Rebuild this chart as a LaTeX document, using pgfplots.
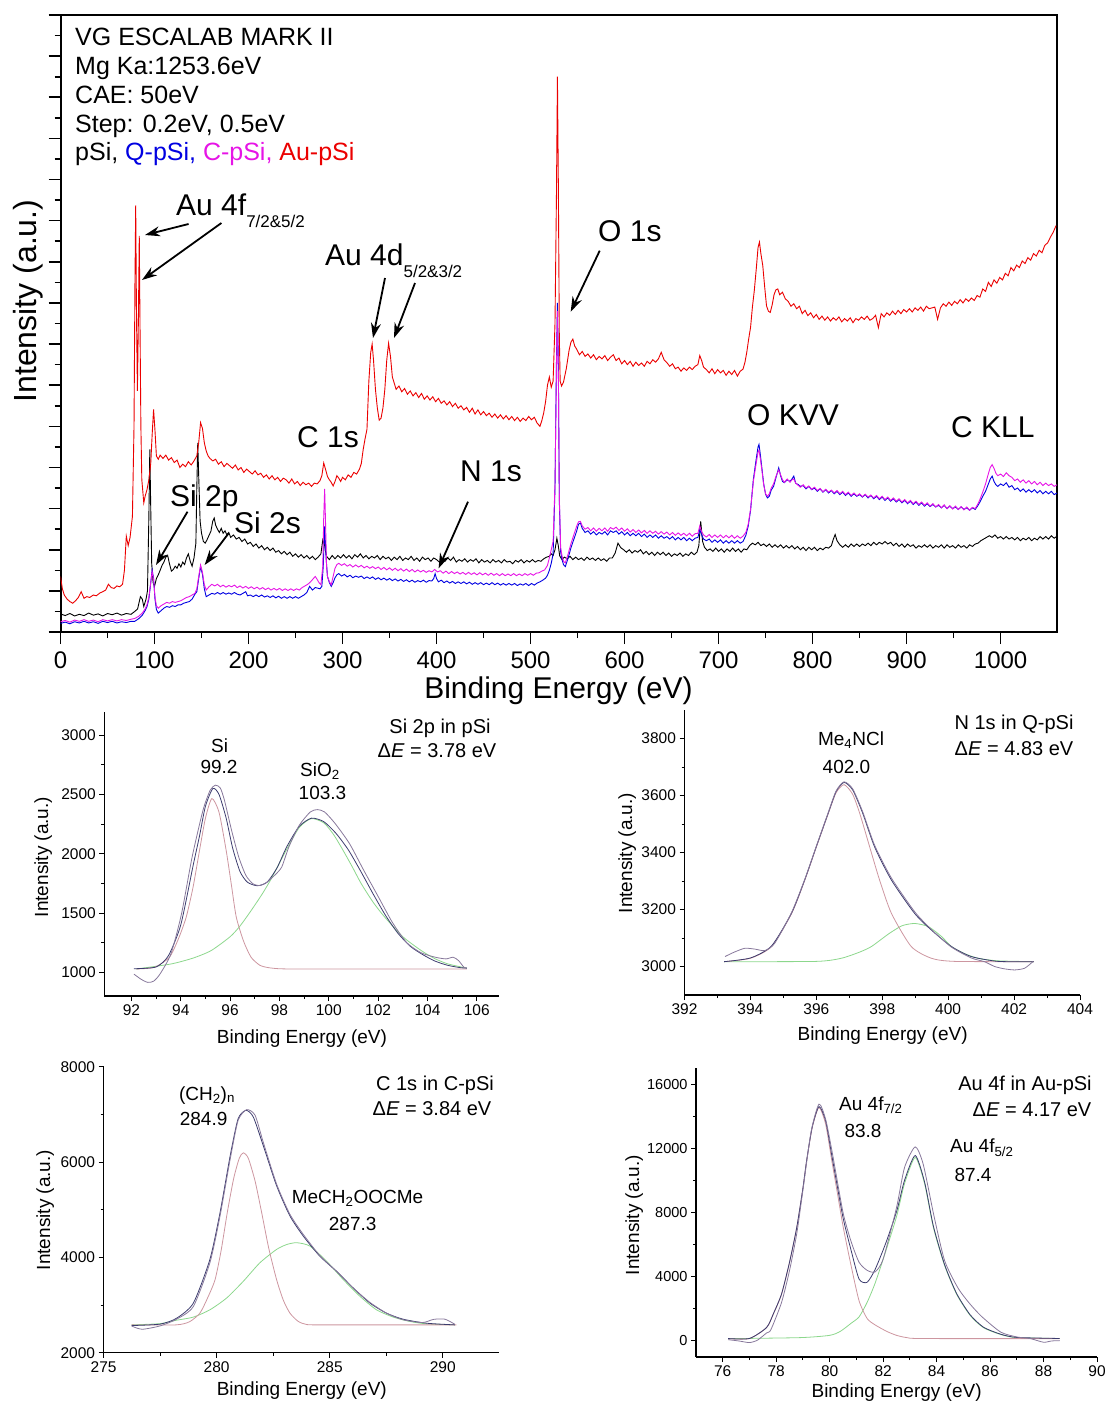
\documentclass[border=0pt]{standalone}
\usepackage{fontspec}
\setmainfont{Liberation Sans}
\usepackage{pgfplots}
\pgfplotsset{compat=1.18}
\usetikzlibrary{arrows.meta}
\definecolor{cblue}{RGB}{0,0,225}
\definecolor{cmag}{RGB}{230,20,230}
\definecolor{cred}{RGB}{235,0,0}
\definecolor{fitc}{RGB}{60,60,110}
\definecolor{rawc}{RGB}{135,120,155}
\definecolor{pinkc}{RGB}{205,150,160}
\definecolor{greenc}{RGB}{140,215,140}
\newcommand{\fs}[1]{\fontsize{#1}{#1}\selectfont}
\pgfplotsset{
  smallp/.style={scale only axis, axis lines=left, axis line style={-, line width=1.2pt},
    tick align=outside, major tick length=5pt, minor tick length=3pt,
    every tick/.style={line width=1pt, black},
    tick label style={font=\fs{15.5}},
    /pgf/number format/assume math mode=true,
    /pgf/number format/set thousands separator={},
    scaled ticks=false,
    minor x tick num=1, minor y tick num=1,
    every axis plot/.append style={smooth, tension=0.4, line width=0.8pt}},
}
\begin{document}
\begin{tikzpicture}
\path[use as bounding box] (0pt,0pt) rectangle (1107pt,-1401pt);
% ---------------- main survey ----------------
\begin{axis}[at={(60.5pt,-632pt)}, anchor=south west, scale only axis,
  width=996.5pt, height=617pt, xmin=0, xmax=1060, ymin=0, ymax=15,
  xtick={0,100,...,1000}, minor x tick num=1, ytick={0,1,...,15}, minor y tick num=1,
  yticklabels={}, xtick pos=bottom, ytick pos=left, tick align=outside,
  axis line style={line width=2pt}, major tick length=12pt, minor tick length=6pt,
  every tick/.style={line width=1.6pt, black}, tick label style={font=\fs{24}},
  xticklabel style={yshift=-4pt},
  /pgf/number format/assume math mode=true, /pgf/number format/set thousands separator={}]
\addplot[black, line width=0.9pt] coordinates {
(0,0.44)(5,0.40)(10,0.45)(15,0.39)(20,0.43)(25,0.40)(30,0.46)(35,0.41)(40,0.44)(45,0.39)(50,0.45)(55,0.42)(60,0.46)(65,0.41)(70,0.45)(75,0.43)(79,0.50)(82,0.56)(85,0.86)(87,0.80)(88.6,0.62)(91,0.80)(92.5,1.0)(94,2.8)(95,4.44)(96,3.0)(97,1.67)(98.5,1.20)(100,1.11)(102,1.30)(104,1.39)(106,1.50)(108,1.62)(110,1.70)(112,1.82)(114,1.86)(116,1.65)(118,1.48)(120,1.52)(122,1.60)(124,1.55)(126,1.66)(128,1.58)(130,1.70)(132,1.64)(134,1.80)(136,1.90)(138,1.72)(140,1.60)(142,1.80)(144,2.16)(145,3.5)(146,4.60)(147,3.8)(148.5,2.7)(150,2.40)(152,2.20)(154,2.16)(156,2.25)(158,2.35)(160,2.45)(162,2.70)(163.5,2.77)(165,2.60)(167,2.50)(169,2.42)(171,2.52)(173,2.40)(175,2.46)(177,2.36)(179,2.42)(181,2.30)(184,2.36)(187,2.26)(190,2.30)(193,2.20)(196,2.26)(199,2.14)(202,2.18)(205,2.08)(208,2.14)(211,2.04)(214,2.10)(217,2.00)(220,2.06)(223,1.98)(226,2.04)(229,1.94)(232,1.98)(235,1.90)(238,1.96)(241,1.88)(244,1.94)(247,1.84)(250,1.90)(253,1.82)(256,1.88)(259,1.80)(262,1.86)(265,1.78)(268,1.84)(271,1.76)(274,1.82)(277,1.90)(279,2.24)(281,2.10)(283,1.84)(286,1.76)(289,1.86)(292,1.78)(295,1.86)(298,1.80)(301,1.88)(304,1.80)(307,1.86)(310,1.78)(313,1.88)(316,1.82)(319,1.90)(322,1.80)(325,1.86)(328,1.78)(331,1.84)(334,1.80)(337,1.86)(340,1.76)(343,1.84)(346,1.78)(349,1.82)(352,1.74)(355,1.82)(358,1.76)(361,1.84)(364,1.74)(367,1.80)(370,1.76)(373,1.84)(376,1.74)(379,1.80)(382,1.72)(385,1.82)(388,1.76)(391,1.80)(394,1.72)(397,1.80)(400,1.76)(403,1.70)(406,1.78)(409,1.72)(412,1.80)(415,1.74)(418,1.82)(421,1.70)(424,1.76)(427,1.72)(430,1.78)(433,1.70)(436,1.76)(439,1.72)(442,1.78)(445,1.68)(448,1.76)(451,1.70)(454,1.74)(457,1.68)(460,1.76)(463,1.70)(466,1.74)(469,1.68)(472,1.76)(475,1.70)(478,1.72)(481,1.66)(484,1.74)(487,1.70)(490,1.76)(493,1.68)(496,1.74)(499,1.70)(502,1.76)(505,1.70)(508,1.74)(511,1.72)(514,1.78)(517,1.82)(520,1.84)(522,1.90)(524,1.86)(526,2.0)(528,2.28)(529.5,2.10)(531,1.85)(533.5,1.76)(536,1.82)(539,1.78)(542,1.84)(545,1.76)(548,1.82)(551,1.76)(554,1.80)(557,1.74)(560,1.82)(563,1.76)(566,1.80)(569,1.74)(572,1.80)(575,1.74)(578,1.78)(581,1.72)(584,1.80)(587,1.80)(590,1.92)(593,2.16)(596,2.05)(599,2.00)(602,1.94)(605,2.00)(608,1.92)(611,1.98)(614,1.94)(617,2.00)(620,1.90)(623,1.96)(626,1.88)(629,1.94)(632,1.86)(635,1.94)(638,1.88)(641,1.94)(644,1.86)(647,1.92)(650,1.84)(653,1.90)(656,1.86)(659,1.92)(662,1.84)(665,1.90)(668,1.86)(671,1.94)(674,1.88)(677,1.94)(679,2.10)(681,2.69)(683,2.20)(685,2.06)(688,1.98)(691,2.02)(694,1.96)(697,2.04)(700,1.96)(703,2.02)(706,1.94)(709,2.02)(712,1.96)(715,2.04)(718,1.96)(721,2.02)(724,1.94)(727,2.02)(730,2.00)(733,2.10)(736,2.16)(739,2.12)(742,2.18)(745,2.10)(748,2.14)(751,2.08)(754,2.14)(757,2.06)(760,2.12)(763,2.06)(766,2.12)(769,2.04)(772,2.10)(775,2.04)(778,2.10)(781,2.02)(784,2.08)(787,2.00)(790,2.06)(793,1.98)(796,2.06)(799,2.00)(802,2.06)(805,1.98)(808,2.04)(811,2.00)(814,2.06)(817,2.04)(820,2.10)(822,2.25)(824,2.37)(826,2.22)(829,2.12)(832,2.06)(835,2.12)(838,2.06)(841,2.14)(844,2.08)(847,2.14)(850,2.08)(853,2.14)(856,2.10)(859,2.16)(862,2.10)(865,2.18)(868,2.12)(871,2.18)(874,2.14)(877,2.20)(880,2.14)(883,2.18)(886,2.10)(889,2.16)(892,2.08)(895,2.14)(898,2.06)(901,2.14)(904,2.08)(907,2.12)(910,2.04)(913,2.10)(916,2.06)(919,2.12)(922,2.06)(925,2.12)(928,2.04)(931,2.10)(934,2.06)(937,2.12)(940,2.04)(943,2.12)(946,2.06)(949,2.10)(952,2.04)(955,2.12)(958,2.06)(961,2.10)(964,2.04)(967,2.12)(970,2.08)(973,2.14)(976,2.16)(979,2.22)(982,2.26)(985,2.30)(988,2.34)(991,2.30)(994,2.36)(997,2.28)(1000,2.32)(1003,2.26)(1006,2.32)(1009,2.26)(1012,2.30)(1015,2.24)(1018,2.30)(1021,2.22)(1024,2.28)(1027,2.24)(1030,2.30)(1033,2.22)(1036,2.28)(1039,2.24)(1042,2.32)(1045,2.26)(1048,2.32)(1051,2.26)(1054,2.34)(1057,2.28)(1060,2.33)};
\addplot[cblue, line width=0.9pt] coordinates {
(0,0.21)(5,0.24)(10,0.20)(15,0.25)(20,0.22)(25,0.26)(30,0.22)(35,0.25)(40,0.21)(45,0.26)(50,0.23)(55,0.26)(60,0.22)(65,0.25)(70,0.23)(75,0.26)(79,0.26)(83,0.32)(87,0.41)(90,0.52)(92,0.62)(94,0.80)(96,1.20)(97.5,1.51)(99,1.30)(100.5,0.80)(102,0.55)(104,0.46)(107,0.52)(110,0.58)(113,0.62)(116,0.60)(119,0.64)(122,0.62)(125,0.66)(128,0.66)(131,0.70)(134,0.72)(137,0.74)(140,0.80)(143,0.92)(145,0.98)(147,1.30)(149,1.59)(151,1.40)(153,1.05)(155,0.86)(158,0.90)(161,0.94)(164,0.92)(167,0.96)(170,0.92)(173,0.96)(176,0.92)(179,0.95)(182,0.92)(185,0.96)(188,0.92)(191,0.90)(194,0.94)(197,0.98)(199,0.88)(202,0.90)(205,0.86)(208,0.90)(211,0.86)(214,0.90)(217,0.85)(220,0.88)(223,0.84)(226,0.88)(229,0.83)(232,0.87)(235,0.82)(238,0.86)(241,0.82)(244,0.86)(247,0.82)(250,0.86)(253,0.82)(256,0.86)(259,0.90)(262,0.96)(265,1.11)(268,1.02)(271,1.08)(273,1.07)(276,1.05)(278,1.11)(279.5,1.60)(281,2.57)(282.5,1.80)(284,1.35)(286,1.20)(288,1.11)(290,1.20)(292,1.32)(294,1.39)(296,1.42)(299,1.36)(302,1.40)(305,1.34)(308,1.38)(311,1.32)(314,1.36)(317,1.33)(320,1.36)(323,1.30)(326,1.34)(329,1.30)(332,1.34)(335,1.28)(338,1.32)(341,1.27)(344,1.31)(347,1.26)(350,1.30)(353,1.25)(356,1.29)(359,1.24)(362,1.28)(365,1.23)(368,1.27)(371,1.22)(374,1.26)(377,1.21)(380,1.25)(383,1.22)(386,1.26)(389,1.21)(392,1.25)(395,1.24)(397,1.30)(398.5,1.42)(400,1.30)(402,1.22)(405,1.26)(408,1.20)(411,1.24)(414,1.19)(417,1.23)(420,1.18)(423,1.22)(426,1.18)(429,1.22)(432,1.17)(435,1.21)(438,1.16)(441,1.20)(444,1.16)(447,1.20)(450,1.15)(453,1.19)(456,1.15)(459,1.20)(462,1.15)(465,1.19)(468,1.14)(471,1.18)(474,1.14)(477,1.18)(480,1.14)(483,1.18)(486,1.13)(489,1.17)(492,1.14)(495,1.18)(498,1.13)(501,1.18)(504,1.14)(507,1.19)(510,1.22)(513,1.26)(516,1.31)(518,1.38)(520,1.50)(522,1.67)(524,1.90)(526,3.5)(527.5,6.5)(528.6,8.0)(529.6,6.4)(530.6,3.2)(532,1.95)(533.5,1.76)(535,1.64)(537,1.59)(540,1.80)(543,2.05)(546,2.25)(549,2.45)(551,2.62)(553,2.65)(555,2.52)(558,2.42)(561,2.46)(564,2.38)(567,2.44)(570,2.36)(573,2.42)(576,2.38)(579,2.44)(582,2.36)(585,2.46)(588,2.42)(591,2.46)(594,2.38)(597,2.44)(600,2.36)(603,2.42)(606,2.34)(609,2.40)(612,2.34)(615,2.40)(618,2.32)(621,2.38)(624,2.30)(627,2.36)(630,2.30)(633,2.36)(636,2.28)(639,2.34)(642,2.28)(645,2.32)(648,2.26)(651,2.32)(654,2.24)(657,2.30)(660,2.24)(663,2.30)(666,2.22)(669,2.28)(672,2.22)(675,2.28)(678,2.30)(680,2.49)(682,2.36)(684,2.26)(687,2.22)(690,2.26)(693,2.18)(696,2.24)(699,2.18)(702,2.24)(705,2.16)(708,2.22)(711,2.16)(714,2.22)(717,2.16)(720,2.22)(723,2.16)(726,2.20)(729,2.35)(731.5,2.57)(734,2.95)(737,3.71)(740,4.20)(742,4.50)(743,4.56)(744.5,4.30)(746,4.00)(748,3.60)(750,3.35)(752,3.26)(754,3.30)(756,3.45)(758.5,3.54)(761,3.75)(764,3.99)(766,3.80)(768,3.66)(770,3.63)(773,3.70)(776,3.66)(778,3.72)(780,3.79)(782,3.62)(785,3.58)(787,3.54)(790,3.56)(793,3.48)(796,3.54)(799,3.46)(802,3.50)(805,3.42)(808,3.48)(811,3.40)(814,3.46)(817,3.38)(820,3.44)(823,3.36)(826,3.42)(829,3.34)(832,3.40)(835,3.32)(838,3.38)(841,3.30)(844,3.36)(847,3.30)(850,3.34)(853,3.28)(856,3.34)(859,3.26)(862,3.32)(865,3.24)(868,3.30)(871,3.22)(874,3.28)(877,3.20)(880,3.26)(883,3.18)(886,3.24)(889,3.16)(892,3.22)(895,3.14)(898,3.20)(901,3.12)(904,3.18)(907,3.10)(910,3.16)(913,3.08)(916,3.14)(919,3.06)(922,3.12)(925,3.05)(928,3.10)(931,3.04)(934,3.08)(937,3.02)(940,3.08)(943,3.00)(946,3.06)(949,3.00)(952,3.04)(955,2.98)(958,3.04)(961,2.98)(964,3.02)(967,2.96)(970,3.02)(973,2.98)(976,3.08)(978,3.16)(981,3.30)(984,3.42)(987,3.60)(989,3.72)(991,3.79)(993,3.66)(995,3.58)(997,3.54)(1000,3.60)(1003,3.56)(1006,3.63)(1009,3.52)(1012,3.56)(1015,3.46)(1018,3.50)(1021,3.42)(1024,3.48)(1027,3.40)(1030,3.46)(1033,3.40)(1036,3.46)(1039,3.38)(1042,3.44)(1045,3.36)(1048,3.42)(1051,3.36)(1054,3.42)(1057,3.34)(1060,3.38)};
\addplot[cmag, line width=0.9pt] coordinates {
(0,0.25)(5,0.28)(10,0.24)(15,0.29)(20,0.26)(25,0.30)(30,0.26)(35,0.29)(40,0.25)(45,0.30)(50,0.27)(55,0.30)(60,0.27)(65,0.30)(70,0.28)(75,0.31)(79,0.33)(83,0.38)(87,0.46)(90,0.56)(92,0.66)(94,0.85)(96,1.20)(97.5,1.47)(99,1.28)(100.5,0.85)(102,0.64)(104,0.58)(107,0.64)(110,0.68)(113,0.72)(116,0.70)(119,0.74)(122,0.72)(125,0.74)(128,0.76)(131,0.80)(134,0.84)(137,0.86)(140,0.90)(143,0.94)(145,1.05)(147,1.35)(149,1.63)(151,1.45)(153,1.15)(155,1.02)(158,1.10)(161,1.16)(164,1.12)(167,1.16)(170,1.10)(173,1.14)(176,1.09)(179,1.13)(182,1.10)(185,1.14)(188,1.08)(191,1.12)(194,1.07)(197,1.11)(200,1.06)(203,1.10)(206,1.05)(209,1.09)(212,1.04)(215,1.08)(218,1.03)(221,1.07)(224,1.02)(227,1.06)(230,1.02)(233,1.06)(236,1.01)(239,1.05)(242,1.01)(245,1.05)(248,1.01)(251,1.05)(254,1.02)(257,1.08)(260,1.12)(263,1.16)(266,1.22)(269,1.30)(271,1.35)(273,1.28)(275,1.20)(277,1.15)(279,1.60)(280,2.8)(281,3.48)(282,2.6)(283,1.60)(284,1.35)(286,1.22)(288,1.15)(290,1.35)(292,1.55)(294,1.64)(296,1.67)(299,1.62)(302,1.66)(305,1.60)(308,1.64)(311,1.58)(314,1.63)(317,1.58)(320,1.62)(323,1.56)(326,1.60)(329,1.55)(332,1.59)(335,1.54)(338,1.58)(341,1.52)(344,1.57)(347,1.51)(350,1.56)(353,1.50)(356,1.55)(359,1.49)(362,1.54)(365,1.48)(368,1.53)(371,1.47)(374,1.52)(377,1.46)(380,1.51)(383,1.46)(386,1.50)(389,1.45)(392,1.49)(395,1.46)(398,1.52)(401,1.46)(404,1.49)(407,1.43)(410,1.48)(413,1.42)(416,1.47)(419,1.42)(422,1.46)(425,1.41)(428,1.45)(431,1.40)(434,1.45)(437,1.40)(440,1.44)(443,1.39)(446,1.44)(449,1.39)(452,1.43)(455,1.38)(458,1.43)(461,1.38)(464,1.42)(467,1.37)(470,1.42)(473,1.37)(476,1.41)(479,1.37)(482,1.42)(485,1.37)(488,1.41)(491,1.37)(494,1.42)(497,1.38)(500,1.42)(503,1.38)(506,1.43)(509,1.44)(512,1.48)(515,1.51)(518,1.62)(520,1.80)(522,2.00)(524,2.20)(526,3.6)(527.5,6.3)(528.6,7.8)(529.6,6.2)(530.6,3.3)(532,2.05)(533.5,1.85)(535,1.72)(537,1.68)(540,1.90)(543,2.15)(546,2.36)(549,2.57)(551,2.68)(553,2.69)(555,2.58)(558,2.50)(561,2.54)(564,2.46)(567,2.53)(570,2.45)(573,2.52)(576,2.46)(579,2.53)(582,2.45)(585,2.54)(588,2.50)(591,2.55)(594,2.47)(597,2.53)(600,2.45)(603,2.51)(606,2.43)(609,2.49)(612,2.42)(615,2.48)(618,2.41)(621,2.47)(624,2.40)(627,2.46)(630,2.40)(633,2.45)(636,2.38)(639,2.44)(642,2.38)(645,2.43)(648,2.36)(651,2.42)(654,2.35)(657,2.41)(660,2.35)(663,2.40)(666,2.34)(669,2.40)(672,2.33)(675,2.39)(678,2.40)(680,2.58)(682,2.44)(684,2.36)(687,2.31)(690,2.37)(693,2.30)(696,2.36)(699,2.30)(702,2.36)(705,2.29)(708,2.35)(711,2.29)(714,2.35)(717,2.28)(720,2.34)(723,2.28)(726,2.33)(729,2.42)(731.5,2.62)(734,2.98)(737,3.66)(740,4.10)(742,4.38)(743,4.42)(744.5,4.20)(746,3.95)(748,3.58)(750,3.36)(752,3.30)(754,3.36)(756,3.50)(758.5,3.60)(761,3.78)(764,3.94)(766,3.82)(768,3.70)(770,3.64)(773,3.72)(776,3.64)(778,3.70)(780,3.72)(782,3.62)(785,3.56)(787,3.52)(790,3.58)(793,3.50)(796,3.55)(799,3.47)(802,3.52)(805,3.44)(808,3.49)(811,3.41)(814,3.47)(817,3.40)(820,3.45)(823,3.38)(826,3.44)(829,3.36)(832,3.42)(835,3.34)(838,3.40)(841,3.32)(844,3.38)(847,3.31)(850,3.36)(853,3.29)(856,3.35)(859,3.28)(862,3.33)(865,3.26)(868,3.32)(871,3.24)(874,3.30)(877,3.22)(880,3.28)(883,3.20)(886,3.26)(889,3.18)(892,3.24)(895,3.16)(898,3.22)(901,3.14)(904,3.20)(907,3.12)(910,3.18)(913,3.10)(916,3.16)(919,3.08)(922,3.14)(925,3.06)(928,3.12)(931,3.04)(934,3.10)(937,3.02)(940,3.09)(943,3.00)(946,3.07)(949,2.99)(952,3.06)(955,2.98)(958,3.05)(961,2.97)(964,3.04)(967,2.96)(970,3.03)(973,3.00)(976,3.12)(978,3.22)(981,3.40)(984,3.60)(987,3.85)(989,4.00)(991,4.07)(993,3.98)(995,3.86)(997,3.80)(1000,3.84)(1003,3.78)(1006,3.87)(1009,3.80)(1012,3.76)(1015,3.68)(1018,3.72)(1021,3.64)(1024,3.70)(1027,3.62)(1030,3.68)(1033,3.60)(1036,3.66)(1039,3.58)(1042,3.64)(1045,3.56)(1048,3.62)(1051,3.56)(1054,3.60)(1057,3.54)(1060,3.58)};
\addplot[cred, line width=0.9pt] coordinates {
(0,1.35)(2,1.05)(4,0.90)(7,0.80)(10,0.74)(13,0.70)(16,0.76)(19,0.84)(22,0.98)(25,0.82)(28,0.86)(31,0.84)(35,0.90)(38,0.88)(42,0.95)(45,0.98)(48,1.02)(51,1.16)(54,1.08)(57,1.06)(60,1.12)(63,1.10)(66,1.16)(68,1.50)(70,2.33)(72,2.10)(74,2.30)(76.5,2.81)(78.2,5.0)(79.2,8.5)(80.0,10.37)(80.8,7.8)(81.8,5.86)(82.8,7.5)(83.8,9.63)(84.6,7.4)(85.5,5.0)(86.5,3.7)(88.6,3.14)(90,3.30)(92,3.46)(94,3.70)(96,4.10)(97.5,4.80)(99,5.41)(100.5,4.90)(102,4.28)(104,4.20)(106,4.30)(109,4.22)(112,4.30)(115,4.18)(118,4.24)(121,4.12)(124,4.18)(127,4.00)(130,4.08)(133,4.02)(136,4.14)(139,4.06)(142,4.16)(145,4.28)(147,4.60)(149,5.09)(151,4.95)(153,4.60)(155,4.40)(157,4.28)(159,4.22)(162,4.16)(165,4.20)(168,4.08)(171,4.14)(174,4.02)(177,4.10)(180,4.04)(183,3.98)(186,4.06)(189,3.94)(192,4.00)(195,3.88)(198,3.96)(201,3.90)(204,3.84)(207,3.92)(210,3.82)(213,3.86)(216,3.76)(219,3.82)(222,3.72)(225,3.80)(228,3.70)(231,3.76)(234,3.66)(237,3.74)(240,3.70)(243,3.62)(246,3.72)(249,3.60)(252,3.66)(255,3.56)(258,3.64)(261,3.58)(264,3.62)(267,3.54)(270,3.62)(273,3.60)(276,3.68)(278,3.80)(280,4.11)(282,3.95)(284,3.78)(286,3.70)(288,3.64)(290,3.55)(292,3.66)(294,3.80)(296,3.74)(298,3.66)(300,3.76)(303,3.70)(306,3.82)(309,3.76)(312,3.88)(315,3.84)(318,3.96)(320,4.10)(322,4.44)(324,4.70)(326,4.93)(328,6.10)(330,6.80)(331.5,7.00)(333,6.60)(335,5.90)(337,5.45)(339,5.15)(341,5.20)(343,5.45)(345,5.90)(347,6.60)(349,7.02)(351,6.70)(353,6.20)(355,6.05)(357,5.90)(360,5.98)(363,5.84)(366,5.92)(369,5.78)(372,5.86)(375,5.74)(378,5.82)(381,5.70)(384,5.80)(387,5.66)(390,5.74)(393,5.64)(396,5.72)(399,5.60)(402,5.68)(405,5.56)(408,5.62)(411,5.52)(414,5.60)(417,5.48)(420,5.56)(423,5.44)(426,5.50)(429,5.40)(432,5.46)(435,5.34)(438,5.44)(441,5.30)(444,5.40)(447,5.28)(450,5.36)(453,5.26)(456,5.32)(459,5.22)(462,5.30)(465,5.20)(468,5.28)(471,5.18)(474,5.26)(477,5.16)(480,5.24)(483,5.14)(486,5.22)(489,5.12)(492,5.20)(495,5.14)(498,5.24)(501,5.16)(504,5.22)(507,5.08)(510,5.00)(512,5.14)(514,5.33)(516,5.60)(518,6.00)(520,6.20)(522,5.95)(524,6.10)(526,7.5)(527.5,10.5)(528.6,13.5)(529.6,10.8)(530.6,7.2)(531.5,6.1)(533,5.98)(535,6.07)(538,6.40)(541,6.85)(543,7.05)(545,7.12)(547,6.95)(549,6.88)(552,6.74)(555,6.82)(558,6.70)(561,6.76)(564,6.66)(567,6.74)(570,6.62)(573,6.70)(576,6.64)(579,6.72)(582,6.60)(585,6.68)(588,6.74)(591,6.60)(594,6.66)(597,6.52)(600,6.60)(603,6.50)(606,6.58)(609,6.46)(612,6.56)(615,6.48)(618,6.54)(621,6.46)(624,6.58)(627,6.52)(630,6.62)(633,6.56)(636,6.64)(639,6.80)(642,6.62)(645,6.55)(648,6.46)(651,6.52)(654,6.40)(657,6.44)(660,6.34)(663,6.42)(666,6.36)(669,6.44)(672,6.38)(675,6.46)(678,6.50)(680,6.72)(682,6.60)(684,6.44)(687,6.38)(690,6.30)(693,6.40)(696,6.28)(699,6.38)(702,6.30)(705,6.36)(708,6.24)(711,6.34)(714,6.26)(717,6.36)(720,6.22)(723,6.34)(726,6.39)(728,6.55)(730,6.80)(732,7.12)(734,7.40)(736,7.90)(738,8.30)(740,8.80)(742,9.35)(743.5,9.48)(745,9.20)(747,8.91)(749,8.40)(751,7.93)(753,7.80)(755,7.77)(757,7.95)(759,8.20)(761,8.32)(763,8.34)(765,8.20)(768,8.26)(771,8.10)(774,8.04)(777,7.92)(780,7.98)(783,7.86)(786,7.92)(789,7.74)(792,7.82)(795,7.69)(798,7.76)(801,7.64)(804,7.72)(807,7.60)(810,7.68)(813,7.58)(816,7.66)(819,7.56)(822,7.64)(825,7.58)(828,7.66)(831,7.54)(834,7.62)(837,7.56)(840,7.64)(843,7.52)(846,7.62)(849,7.58)(852,7.66)(855,7.60)(858,7.68)(861,7.58)(864,7.62)(867,7.70)(870,7.40)(873,7.74)(876,7.66)(879,7.76)(882,7.70)(885,7.80)(888,7.72)(891,7.82)(894,7.74)(897,7.84)(900,7.78)(903,7.86)(906,7.78)(909,7.88)(912,7.82)(915,7.90)(918,7.80)(921,7.92)(924,7.86)(927,7.88)(930,7.90)(933,7.60)(936,7.88)(939,7.98)(942,7.92)(945,8.02)(948,7.94)(951,8.04)(954,7.98)(957,8.08)(960,8.00)(963,8.10)(966,8.04)(969,8.12)(972,8.06)(975,8.18)(978,8.14)(981,8.34)(984,8.28)(987,8.50)(990,8.40)(993,8.56)(996,8.48)(999,8.62)(1002,8.56)(1005,8.72)(1008,8.66)(1011,8.86)(1014,8.78)(1017,8.92)(1020,8.86)(1023,9.02)(1026,8.96)(1029,9.10)(1032,9.04)(1035,9.20)(1038,9.14)(1041,9.28)(1044,9.22)(1047,9.40)(1050,9.46)(1053,9.60)(1056,9.72)(1059,9.88)};
\end{axis}
% ---------------- Si 2p ----------------
\begin{axis}[smallp, at={(104.3pt,-996pt)}, anchor=south west, width=394.7pt, height=284pt,
  xmin=90.9, xmax=106.9, ymin=800, ymax=3195, xtick={92,94,...,106}, ytick={1000,1500,...,3000}]
\addplot[greenc] coordinates {(92.2,1028)(93.6,1070)(94.5,1120)(95.23,1183)(96.0,1300)(96.4,1390)(96.85,1520)(97.3,1660)(97.67,1790)(98.27,2028)(98.8,2220)(99.29,2296)(99.8,2260)(100.2,2160)(100.58,2028)(100.95,1890)(101.32,1746)(101.8,1590)(102.27,1465)(103.0,1300)(103.75,1183)(104.3,1115)(104.84,1070)(105.6,1035)};
\addplot[pinkc] coordinates {(92.2,1028)(92.93,1042)(93.54,1127)(93.9,1280)(94.22,1465)(94.5,1720)(94.76,2028)(95.0,2300)(95.26,2465)(95.55,2350)(95.84,2028)(96.05,1740)(96.25,1465)(96.55,1260)(96.85,1127)(97.2,1060)(97.53,1040)(98.0,1030)(99.0,1028)(105.6,1028)};
\addplot[fitc] coordinates {(92.1,1030)(93.0,1045)(93.5,1140)(94.0,1400)(94.5,1900)(94.76,2150)(95.0,2400)(95.3,2550)(95.55,2500)(95.84,2300)(96.1,2050)(96.4,1850)(96.7,1760)(97.1,1730)(97.5,1760)(97.9,1880)(98.3,2060)(98.8,2230)(99.3,2300)(99.8,2270)(100.3,2170)(100.8,2030)(101.3,1850)(101.8,1660)(102.3,1480)(102.8,1330)(103.3,1220)(103.8,1150)(104.3,1095)(104.8,1060)(105.3,1040)(105.6,1035)};
\addplot[rawc] coordinates {(92.1,985)(92.4,940)(92.66,915)(92.9,925)(93.16,986)(93.6,1155)(94.03,1493)(94.46,1972)(94.9,2366)(95.19,2535)(95.4,2578)(95.6,2555)(95.77,2451)(96.06,2197)(96.35,1972)(96.64,1817)(96.93,1746)(97.22,1732)(97.5,1761)(97.8,1817)(98.09,1887)(98.38,2056)(98.8,2239)(99.25,2352)(99.54,2372)(99.83,2352)(100.26,2254)(100.84,2085)(101.42,1859)(102.0,1640)(102.58,1420)(103.16,1250)(103.74,1165)(104.32,1127)(104.75,1113)(105.04,1127)(105.26,1099)(105.48,1042)(105.6,1035)};
\end{axis}
% ---------------- N 1s ----------------
\begin{axis}[smallp, at={(684.5pt,-995pt)}, anchor=south west, width=395.5pt, height=285pt,
  xmin=392, xmax=404, ymin=2900, ymax=3900, xtick={392,394,...,404}, ytick={3000,3200,...,3800}]
\addplot[greenc] coordinates {(393.2,3017)(396.0,3018)(396.76,3029)(397.3,3050)(397.67,3070)(398.2,3115)(398.6,3143)(398.985,3151)(399.4,3140)(399.8,3105)(400.1,3070)(400.5,3045)(400.9,3029)(401.5,3020)(402.6,3017)};
\addplot[pinkc] coordinates {(393.2,3017)(394.0,3029)(394.64,3070)(395.25,3186)(395.65,3303)(396.0,3419)(396.36,3536)(396.6,3610)(396.84,3638)(397.1,3605)(397.32,3536)(397.62,3419)(397.92,3303)(398.28,3186)(398.88,3070)(399.49,3029)(400.2,3018)(402.6,3017)};
\addplot[fitc] coordinates {(393.2,3017)(394.0,3030)(394.64,3072)(395.25,3188)(395.65,3305)(396.0,3421)(396.36,3538)(396.6,3614)(396.84,3646)(397.1,3620)(397.4,3540)(397.77,3419)(398.28,3303)(398.985,3186)(399.49,3128)(400.1,3070)(400.7,3035)(401.51,3018)(402.6,3017)};
\addplot[rawc] coordinates {(393.23,3035)(393.5,3050)(393.83,3064)(394.14,3061)(394.44,3056)(394.74,3082)(395.25,3190)(395.65,3306)(396.0,3422)(396.36,3540)(396.6,3616)(396.84,3648)(397.1,3624)(397.4,3545)(397.77,3425)(398.28,3310)(398.985,3192)(399.49,3130)(400.1,3068)(400.7,3030)(401.1,3017)(401.41,3000)(401.7,2992)(402.02,2988)(402.32,2994)(402.57,3017)};
\end{axis}
% ---------------- C 1s ----------------
\begin{axis}[smallp, at={(103.6pt,-1352.7pt)}, anchor=south west, width=395.7pt, height=286pt,
  xmin=275, xmax=292.5, ymin=2000, ymax=8000, xtick={275,280,285,290}, ytick={2000,4000,6000,8000}]
\addplot[greenc] coordinates {(276.24,2584)(277.5,2610)(278.2,2680)(278.97,2747)(279.7,2900)(280.44,3147)(281.18,3499)(281.91,3886)(282.65,4167)(283.1,4270)(283.54,4308)(284.12,4238)(284.86,3921)(285.6,3534)(286.34,3182)(287.07,2900)(287.81,2747)(288.55,2655)(289.28,2605)(290.53,2584)};
\addplot[pinkc] coordinates {(276.24,2584)(278.2,2584)(278.8,2650)(279.26,2831)(279.6,3150)(279.93,3534)(280.2,4150)(280.47,4941)(280.75,5650)(281.0,6080)(281.18,6193)(281.4,6080)(281.7,5600)(281.99,4941)(282.3,4200)(282.65,3534)(282.95,3100)(283.24,2831)(283.6,2660)(284.0,2590)(285.0,2584)(290.6,2584)};
\addplot[fitc] coordinates {(276.24,2570)(277.5,2600)(278.23,2724)(278.97,3041)(279.7,3956)(280.15,4941)(280.6,6137)(280.95,6911)(281.3,7085)(281.62,6946)(282.06,6348)(282.65,5504)(283.24,4870)(283.83,4448)(284.56,4026)(285.3,3709)(286.04,3357)(286.78,3041)(287.51,2830)(288.25,2703)(289.28,2619)(290.53,2584)};
\addplot[rawc] coordinates {(276.24,2560)(276.7,2492)(277.5,2563)(278.23,2704)(278.97,2971)(279.7,3886)(280.15,4870)(280.6,6066)(280.95,6876)(281.33,7100)(281.7,6981)(282.06,6418)(282.65,5539)(283.24,4905)(283.83,4483)(284.56,4040)(285.3,3709)(286.04,3357)(286.78,3055)(287.51,2830)(288.25,2690)(289.1,2633)(289.6,2700)(290.1,2703)(290.53,2598)};
\end{axis}
% ---------------- Au 4f ----------------
\begin{axis}[smallp, at={(696pt,-1357pt)}, anchor=south west, width=401pt, height=289pt,
  xmin=75, xmax=90, ymin=-1000, ymax=17000, xtick={76,78,...,90}, ytick={0,4000,...,16000},
  yticklabel style={font=\fs{14.5}}]
\addplot[greenc] coordinates {(76.2,145)(78.9,208)(80.0,350)(80.4,600)(80.8,1100)(81.1,1500)(81.4,2400)(81.7,3600)(82.1,5600)(82.51,7800)(82.8,9800)(83.2,11430)(83.55,9800)(83.88,7065)(84.3,4700)(84.75,2909)(85.25,1600)(85.75,831)(86.4,400)(87.0,208)(88.6,150)};
\addplot[pinkc] coordinates {(76.2,145)(77.0,150)(77.64,831)(77.9,1700)(78.2,2909)(78.5,4900)(78.77,7065)(79.0,9500)(79.14,11221)(79.35,13300)(79.6,14546)(79.85,13500)(80.08,11221)(80.3,9100)(80.51,7065)(80.8,4700)(81.1,2500)(81.4,1400)(81.7,1000)(82.13,600)(82.5,350)(82.88,210)(83.5,150)(88.6,145)};
\addplot[fitc] coordinates {(76.2,150)(77.0,155)(77.64,840)(77.9,1720)(78.2,2930)(78.5,4920)(78.77,7090)(79.0,9530)(79.14,11260)(79.35,13350)(79.6,14600)(79.85,13700)(80.08,11550)(80.3,9500)(80.51,7600)(80.8,5655)(81.1,3855)(81.4,3655)(81.7,4455)(82.1,6100)(82.51,8100)(82.8,10000)(83.2,11550)(83.55,9900)(83.88,7150)(84.3,4750)(84.75,2950)(85.25,1640)(85.75,860)(86.4,420)(87.0,220)(88.6,155)};
\addplot[rawc] coordinates {(76.2,80)(76.6,0)(77.0,-100)(77.3,50)(77.64,500)(77.8,700)(78.2,2400)(78.5,4400)(78.77,6700)(79.0,9400)(79.3,13000)(79.6,14750)(79.85,13800)(80.1,11700)(80.5,8000)(80.8,6200)(81.1,4900)(81.4,4400)(81.7,4300)(82.0,5100)(82.5,8300)(82.8,10800)(83.2,12090)(83.5,11000)(83.9,7800)(84.3,5000)(84.8,3300)(85.25,2300)(85.7,1500)(86.4,550)(87.0,250)(87.5,150)(88.0,-80)(88.3,0)(88.6,20)};
\end{axis}
% ---------------- annotations ----------------
\begin{scope}[x=1pt,y=-1pt]
\tikzset{lab/.style={inner sep=0pt, font=\fs{30}}}
\node[inner sep=0pt, anchor=base west, font=\fs{25}] at (75,45) {VG ESCALAB MARK II};
\node[inner sep=0pt, anchor=base west, font=\fs{25}] at (75,74) {Mg Ka:1253.6eV};
\node[inner sep=0pt, anchor=base west, font=\fs{25}] at (75,103) {CAE: 50eV};
\node[inner sep=0pt, anchor=base west, font=\fs{25}] at (75,132) {Step: 0.2eV, 0.5eV};
\node[inner sep=0pt, anchor=base west, font=\fs{25}] at (75,160.5) {pSi, \textcolor{cblue}{Q-pSi,} \textcolor{cmag}{C-pSi,} \textcolor{cred}{Au-pSi}};
\node[lab, anchor=base west] at (176,215) {Au 4f\raisebox{-12pt}{\fs{17}7/2\&5/2}};
\node[lab, anchor=base west] at (325,265) {Au 4d\raisebox{-12pt}{\fs{17}5/2\&3/2}};
\node[lab, anchor=base west] at (598,241) {O 1s};
\node[lab, anchor=base west] at (297,447) {C 1s};
\node[lab, anchor=base west] at (460,481) {N 1s};
\node[lab, anchor=base west] at (170,506) {Si 2p};
\node[lab, anchor=base west] at (234,533) {Si 2s};
\node[lab, anchor=base west] at (747,425) {O KVV};
\node[lab, anchor=base west] at (951,437) {C KLL};
\tikzset{arr/.style={line width=1.8pt, -{Stealth[length=15pt,width=10pt]}}}
\draw[arr] (188.6,224) -- (145,235);
\draw[arr] (221.4,223) -- (142,280);
\draw[arr] (385,278) -- (373,338);
\draw[arr] (415,283) -- (394,338);
\draw[arr] (599.7,250.7) -- (570.7,311.7);
\draw[arr] (468,501.7) -- (438.6,568.3);
\draw[arr] (187.5,511.7) -- (156,565);
\draw[arr] (228.6,533.3) -- (204.6,565);
\node[inner sep=0pt, anchor=base, font=\fs{30}] at (558.5,698) {Binding Energy (eV)};
\node[inner sep=0pt, anchor=base, rotate=90, font=\fs{32}] at (36,301) {Intensity (a.u.)};
% panel texts
\tikzset{pt/.style={inner sep=0pt, anchor=base, font=\fs{20}}, pk/.style={inner sep=0pt, anchor=base, font=\fs{19}}}
\node[pt] at (440,733) {Si 2p in pSi};
\node[pt] at (437,757) {Δ\textit{E} = 3.78 eV};
\node[pk] at (219.6,752) {Si};
\node[pk] at (219,773) {99.2};
\node[pk] at (320,776) {SiO\textsubscript{2}};
\node[pk] at (322.5,799) {103.3};
\node[pk] at (302,1043.6) {Binding Energy (eV)};
\node[inner sep=0pt, anchor=base, rotate=90, font=\fs{19}] at (48,857) {Intensity (a.u.)};
\node[pt] at (1014,729) {N 1s in Q-pSi};
\node[pt] at (1014,755) {Δ\textit{E} = 4.83 eV};
\node[pk] at (851,745) {Me\textsubscript{4}NCl};
\node[pk] at (846.5,773) {402.0};
\node[pk] at (882.6,1040.3) {Binding Energy (eV)};
\node[inner sep=0pt, anchor=base, rotate=90, font=\fs{19}] at (632,853) {Intensity (a.u.)};
\node[pt] at (435,1090) {C 1s in C-pSi};
\node[pt] at (432,1115) {Δ\textit{E} = 3.84 eV};
\node[pk] at (207,1100) {(CH\textsubscript{2})\textsubscript{n}};
\node[pk] at (203.6,1125) {284.9};
\node[pk] at (357.5,1203) {MeCH\textsubscript{2}OOCMe};
\node[pk] at (352.7,1230) {287.3};
\node[pk] at (301.8,1395) {Binding Energy (eV)};
\node[inner sep=0pt, anchor=base, rotate=90, font=\fs{19}] at (50,1210) {Intensity (a.u.)};
\node[pt] at (1025,1090) {Au 4f in Au-pSi};
\node[pt] at (1032,1116.7) {Δ\textit{E} = 4.17 eV};
\node[inner sep=0pt, anchor=base west, font=\fs{19}] at (839,1110) {Au 4f\textsubscript{7/2}};
\node[pk] at (863,1137) {83.8};
\node[inner sep=0pt, anchor=base west, font=\fs{19}] at (950,1152.7) {Au 4f\textsubscript{5/2}};
\node[pk] at (973,1181) {87.4};
\node[pk] at (896.6,1397) {Binding Energy (eV)};
\node[inner sep=0pt, anchor=base, rotate=90, font=\fs{19}] at (639,1215) {Intensity (a.u.)};
\end{scope}
\end{tikzpicture}
\end{document}
